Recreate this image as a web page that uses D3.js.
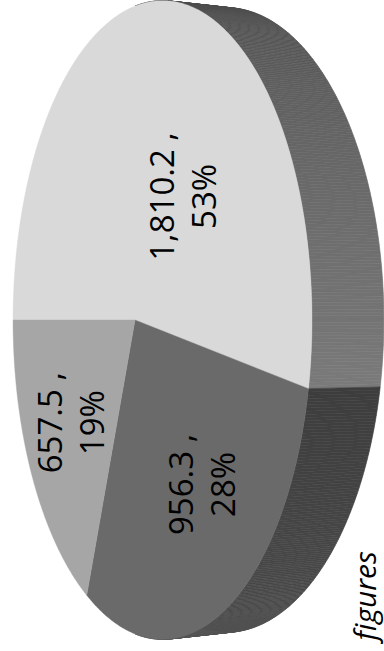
<!DOCTYPE html>
<html><head><meta charset="utf-8">
<script src="https://cdn.jsdelivr.net/npm/d3@7"></script>
<style>html,body{margin:0;padding:0;background:#fff;overflow:hidden}</style>
</head><body>
<svg id="chart" width="384" height="651"></svg>
<script>
// slice values, drawn clockwise from twelve o'clock
const values = [1810.2, 956.3, 657.5];
const footnote = "figures";

const W = 384, H = 651;

const topFill = ["#d9d9d9", "#6a6a6a", "#a6a6a6"];
const sideFill = [["#444444", "#7a7a7a"], ["#3d3d3d", "#575757"], ["#8a8a8a", "#9a9a9a"]];
// labels on slices with a visible wall sit a little toward the front
const labelNudge = [14, 11, 0];

// simple perspective camera looking down on a unit-radius disk
const sinP = 0.46, cosP = Math.sqrt(1 - sinP * sinP);
const cam = {cx: 331, cy: 135, f: 1515, D: 4.826, depth: 0.23};
function project(theta, rho, h) {
  const px = rho * Math.sin(theta), py = -h, pz = -rho * Math.cos(theta);
  const d = cam.D - py * sinP - pz * cosP;
  const u = py * cosP - pz * sinP;
  return [cam.cx + cam.f * px / d, cam.cy - cam.f * u / d];
}

const svg = d3.select("#chart");
// the chart is laid out in a landscape frame and turned a quarter turn
const g = svg.append("g").attr("transform", `translate(0,${H}) rotate(-90)`);

const arcs = d3.pie().sort(null).value(d => d)
  .startAngle(0).endAngle(2 * Math.PI)(values);
const total = d3.sum(values);
const line = d3.line();
const step = Math.PI / 360;

function arcSamples(a0, a1) {
  const n = Math.max(2, Math.ceil((a1 - a0) / step));
  return d3.range(n + 1).map(i => a0 + (a1 - a0) * i / n);
}

// outer walls on the near half
const sides = g.append("g");
arcs.forEach((a, i) => {
  const lo = Math.max(a.startAngle, Math.PI / 2), hi = Math.min(a.endAngle, 3 * Math.PI / 2);
  if (lo >= hi) return;
  const shade = d3.scaleLinear().domain([lo, hi]).range(sideFill[i]).interpolate(d3.interpolateRgb);
  const ts = arcSamples(lo, hi);
  for (let k = 0; k < ts.length - 1; k++) {
    const t0 = ts[k], t1 = ts[k + 1];
    const quad = [project(t0, 1, 0), project(t1, 1, 0), project(t1, 1, cam.depth), project(t0, 1, cam.depth)];
    const c = shade((t0 + t1) / 2);
    sides.append("path").attr("d", line(quad) + "Z")
      .attr("fill", c).attr("stroke", c).attr("stroke-width", 0.6);
  }
});

// top faces
const tops = arcs.map((a, i) => {
  const pts = [project(0, 0, 0)].concat(arcSamples(a.startAngle, a.endAngle).map(t => project(t, 1, 0)));
  g.append("path").attr("d", line(pts) + "Z").attr("fill", topFill[i])
    .attr("stroke", topFill[i]).attr("stroke-width", 0.4);
  return pts;
});

// value / share labels at each face's centre
const fmtVal = d3.format(",.1f"), fmtPct = d3.format(".0%");
arcs.forEach((a, i) => {
  const [x, y0] = d3.polygonCentroid(tops[i]);
  const y = y0 + labelNudge[i];
  const t = g.append("text").attr("text-anchor", "middle")
    .attr("font-family", "'Open Sans', sans-serif").attr("font-size", 33).attr("fill", "#000");
  t.append("tspan").attr("x", x).attr("y", y - 9).text(fmtVal(a.data) + " ,");
  t.append("tspan").attr("x", x).attr("y", y + 33).text(fmtPct(a.data / total));
});

g.append("text").attr("x", 100).attr("y", 376).attr("text-anchor", "end")
  .attr("font-family", "'Open Sans', sans-serif").attr("font-style", "italic")
  .attr("font-size", 30).attr("fill", "#000").text(footnote);
</script>
</body></html>
